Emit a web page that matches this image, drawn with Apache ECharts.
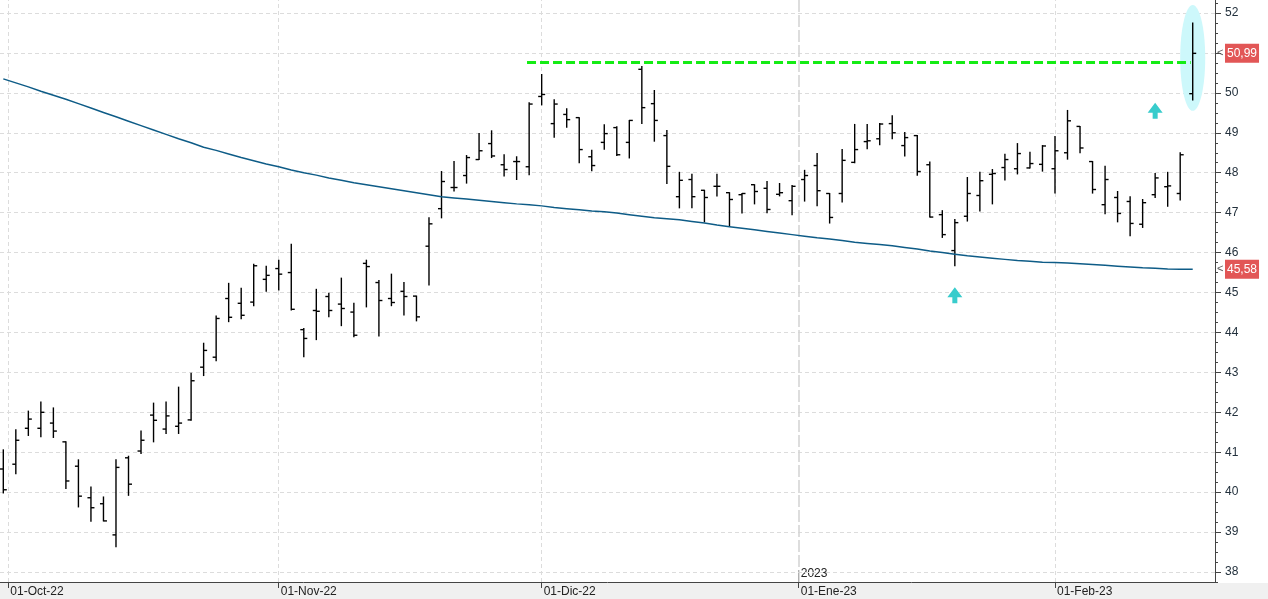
<!DOCTYPE html>
<html><head><meta charset="utf-8">
<script src="https://cdn.jsdelivr.net/npm/echarts@6/dist/echarts.min.js"></script>
<style>html,body{margin:0;padding:0;background:#fff}#c{width:1268px;height:599px}</style>
</head><body><div id="c"></div>
<script>
// ---- data (bar index 0 = 30-Sep-22) ----
const opens  = [40.58,40.70,41.60,41.60,41.73,41.26,40.65,39.86,39.71,38.93,40.86,41.03,41.93,41.58,41.65,41.81,43.13,43.38,44.85,44.73,44.76,45.33,45.60,45.50,44.07,44.55,44.90,44.71,44.51,45.73,45.25,44.85,45.03,44.91,46.16,47.10,47.63,47.93,48.33,48.73,48.20,48.28,48.15,49.91,49.23,49.46,49.38,48.40,48.76,49.13,48.76,50.59,49.73,48.93,47.40,47.83,47.56,47.66,47.50,47.45,47.70,47.61,47.46,47.30,47.83,48.18,47.48,47.48,48.26,48.78,48.85,49.23,48.68,48.93,48.20,46.95,46.05,46.91,47.43,47.96,48.13,48.10,48.12,48.21,48.10,48.50,49.16,48.28,47.20,47.38,47.28,46.71,47.45,47.65,47.48,49.98];
const highs  = [41.06,41.56,42.03,42.26,42.11,41.26,40.81,40.13,39.88,40.81,40.90,41.53,42.23,42.26,42.63,42.98,43.73,44.41,45.23,45.11,45.71,45.66,45.81,46.21,44.10,45.08,44.98,45.36,44.73,45.81,45.30,45.46,45.25,44.91,46.87,48.03,48.28,48.43,48.98,49.05,48.45,48.40,49.75,50.46,49.83,49.60,49.38,48.56,49.20,49.15,49.31,50.66,50.06,49.06,48.01,47.96,47.56,47.96,47.50,47.48,47.70,47.78,47.73,47.68,48.06,48.48,47.48,48.58,49.21,49.21,49.23,49.43,49.01,48.93,48.27,47.05,46.83,47.88,48.01,48.08,48.46,48.73,48.51,48.68,48.91,49.56,49.16,48.28,48.16,47.53,47.40,47.33,47.98,48.01,48.50,51.75];
const lows   = [39.98,40.46,41.42,41.39,41.37,40.09,39.63,39.27,39.28,38.63,39.92,40.97,41.26,41.47,41.47,41.80,42.92,43.29,44.27,44.34,44.67,45.03,45.06,44.56,43.39,43.82,44.39,44.17,43.89,44.64,43.91,44.67,44.44,44.29,45.19,46.87,47.54,47.74,48.33,48.38,47.92,47.83,47.95,49.70,48.89,49.14,48.25,48.05,48.59,48.43,48.37,49.23,48.79,47.73,47.12,47.12,46.77,47.42,46.66,46.99,47.22,47.00,47.42,46.95,47.29,47.17,46.74,47.27,48.25,48.60,48.70,48.85,48.42,47.94,46.89,46.38,45.67,46.79,47.04,47.22,47.82,47.97,48.12,48.04,47.49,48.34,48.50,47.49,46.97,46.77,46.42,46.63,47.38,47.16,47.32,49.82];
const closes = [40.06,41.30,41.83,42.00,41.53,40.28,39.90,39.61,39.28,40.62,40.20,41.30,41.80,41.91,41.73,42.79,43.55,44.35,44.38,44.43,45.67,45.43,45.46,44.58,43.85,44.53,44.55,44.60,43.93,45.65,44.80,44.75,44.90,44.39,46.72,47.78,47.63,48.38,48.55,48.42,48.08,48.28,49.72,49.96,49.72,49.33,48.58,48.18,48.98,48.45,49.31,49.63,49.31,48.16,47.81,47.40,47.38,47.66,47.33,47.48,47.53,47.08,47.50,47.66,47.93,47.55,46.88,48.31,48.58,48.80,49.22,49.00,48.88,48.03,46.89,46.45,46.75,47.48,47.80,47.98,48.33,48.48,48.23,48.67,48.55,49.30,48.62,47.58,47.83,46.98,46.73,47.25,47.87,47.67,48.45,50.99];
const ma200  = [50.35,50.25,50.15,50.04,49.94,49.84,49.73,49.62,49.51,49.40,49.29,49.18,49.07,48.96,48.85,48.75,48.64,48.56,48.47,48.38,48.30,48.22,48.15,48.07,48.00,47.94,47.87,47.81,47.75,47.70,47.65,47.60,47.55,47.50,47.45,47.40,47.37,47.34,47.31,47.28,47.25,47.22,47.20,47.17,47.13,47.10,47.07,47.04,47.02,46.99,46.95,46.91,46.87,46.85,46.82,46.78,46.74,46.69,46.65,46.61,46.57,46.53,46.49,46.45,46.41,46.37,46.34,46.30,46.26,46.23,46.20,46.17,46.13,46.09,46.04,46.00,45.96,45.92,45.89,45.86,45.83,45.80,45.78,45.76,45.75,45.74,45.72,45.70,45.68,45.66,45.64,45.62,45.61,45.59,45.58,45.58];

const yTickLabels = [38,39,40,41,42,43,44,45,46,47,48,49,50,51,52];
const xTickPos    = [0.4, 22, 43, 63.53, 84];
const xTickLabels = ['01-Oct-22','01-Nov-22','01-Dic-22','01-Ene-23','01-Feb-23'];
const yearMarkPos = 63.53, yearMarkLabel = '2023';
const resistanceLevel = 50.77, resistanceFrom = 41.83, resistanceTo = 94.84;
const lastPrice = 50.99, lastMA = 45.58;
const arrowPoints = [[76, 44.93], [92, 49.55]];
const highlight = {index: 95, top: 52.2, bottom: 49.55};

// ---- chart ----
const XMIN = -0.264, XMAX = 96.78, YMIN = 37.75, YMAX = 52.326;
const FONT = '"Liberation Sans", Arial, sans-serif';
const GRID_RIGHT = 53, W = 1268;
const quarterTicks = [];
for (let k = 0; YMIN + k * 0.25 <= 52.25 + 1e-9; k++) quarterTicks.push(+(YMIN + k * 0.25).toFixed(2));

const ohlc = opens.map((o, i) => [i, o, closes[i], lows[i], highs[i]]);
const maData = ma200.map((v, i) => [i, v]);
const fmt = v => v.toFixed(2).replace('.', ',');

function renderItem(params, api) {
  const i = api.value(0);
  const o = api.coord([i, api.value(1)]);
  const c = api.coord([i, api.value(2)]);
  const l = api.coord([i, api.value(3)]);
  const h = api.coord([i, api.value(4)]);
  const x = o[0], t = 3.5;
  const st = {stroke: '#000', lineWidth: 1.4};
  return {type: 'group', children: [
    {type: 'line', shape: {x1: x, y1: h[1] - 0.5, x2: x, y2: l[1] + 0.5}, style: st},
    {type: 'line', shape: {x1: x - t, y1: o[1], x2: x, y2: o[1]}, style: st},
    {type: 'line', shape: {x1: x, y1: c[1], x2: x + t, y2: c[1]}, style: st}
  ]};
}

// red last-value boxes on the right axis
const priceLabel = (v) => ({
  yAxis: v,
  lineStyle: {color: 'rgba(0,0,0,0)', width: 0},
  label: {
    show: true, position: 'end', distance: 10,
    formatter: fmt(v),
    backgroundColor: '#e25656', color: '#fff', fontSize: 12, fontFamily: FONT,
    height: 13, lineHeight: 13, padding: [3, 2, 3, 2]
  }
});

const gridBox = {left: 0, right: GRID_RIGHT, top: 0, bottom: 17, outerBoundsMode: 'none', containLabel: false};

const chart = echarts.init(document.getElementById('c'), null, {renderer: 'canvas'});
chart.setOption({
  animation: false,
  backgroundColor: '#fff',
  grid: [Object.assign({}, gridBox), Object.assign({}, gridBox)],
  xAxis: [{
    type: 'value', gridIndex: 0, min: XMIN, max: XMAX, position: 'bottom',
    axisLine: {show: true, onZero: false, lineStyle: {color: '#444', width: 1}},
    axisTick: {show: true, length: 6, customValues: xTickPos, lineStyle: {color: '#444'}},
    axisLabel: {show: true, customValues: xTickPos, align: 'left', margin: 4, padding: [0, 0, 0, 2],
      color: '#222', fontSize: 12, fontFamily: FONT,
      formatter: v => { const k = xTickPos.findIndex(p => Math.abs(p - v) < 1e-6); return k >= 0 ? xTickLabels[k] : ''; }},
    splitLine: {show: false}
  }, {
    // year marker on its own (identical) grid
    type: 'value', gridIndex: 1, min: XMIN, max: XMAX, position: 'bottom',
    axisLine: {show: false, onZero: false},
    axisTick: {show: true, inside: true, length: 12, customValues: [yearMarkPos], lineStyle: {color: '#444'}},
    axisLabel: {show: true, inside: true, customValues: [yearMarkPos], align: 'left', margin: 2, padding: [0, 0, 0, 2],
      color: '#222', fontSize: 12, fontFamily: FONT, formatter: () => yearMarkLabel},
    splitLine: {show: false}
  }],
  yAxis: [{
    type: 'value', gridIndex: 0, min: YMIN, max: YMAX, position: 'right', scale: true,
    axisLine: {show: true, onZero: false, lineStyle: {color: '#444', width: 1}},
    axisTick: {show: true, length: 6, customValues: yTickLabels, lineStyle: {color: '#444'}},
    axisLabel: {show: true, customValues: yTickLabels, margin: 10, color: '#22303c', fontSize: 12, fontFamily: FONT,
      formatter: v => String(Math.round(v))},
    splitLine: {show: false}
  }, {
    // minor quarter ticks on the right edge
    type: 'value', gridIndex: 1, min: YMIN, max: YMAX, position: 'right', scale: true,
    axisLine: {show: false, onZero: false},
    axisTick: {show: true, length: 3, customValues: quarterTicks, lineStyle: {color: '#444'}},
    axisLabel: {show: false},
    splitLine: {show: false}
  }],
  series: [
    { // grid lines
      type: 'line', data: [], z: 1, silent: true,
      markLine: {
        silent: true, z: 1, symbol: ['none', 'none'], label: {show: false},
        lineStyle: {color: '#dcdcdc', type: [4, 3], width: 1},
        emphasis: {disabled: true},
        data: [
          ...yTickLabels.map(v => ({yAxis: v})),
          ...xTickPos.filter(v => v !== yearMarkPos).map(v => ({xAxis: v})),
          {xAxis: yearMarkPos, lineStyle: {color: '#d2d2d2', type: [12, 3], width: 1.5}}
        ]
      }
    },
    {
      type: 'custom', name: 'OHLC', z: 3, renderItem: renderItem,
      encode: {x: 0, y: [1, 2, 3, 4]}, data: ohlc
    },
    {
      type: 'line', name: 'MA', z: 4, data: maData, showSymbol: false, symbol: 'none',
      lineStyle: {color: '#0e5c87', width: 1.5}
    },
    { // annotations
      type: 'line', data: [], z: 10, silent: true,
      markLine: {
        silent: true, z: 10, symbol: ['none', 'none'],
        emphasis: {disabled: true},
        data: [
          [{coord: [resistanceFrom, resistanceLevel], lineStyle: {color: '#14ec14', width: 3, type: [9, 4]}, label: {show: false}},
           {coord: [resistanceTo, resistanceLevel]}],
          priceLabel(lastPrice),
          priceLabel(lastMA)
        ]
      },
      markPoint: {
        silent: true, z: 10,
        symbol: 'path://M7.5 0 L15 10 L10 10 L10 16 L5 16 L5 10 L0 10 Z',
        symbolSize: [15, 16], itemStyle: {color: '#38cccc'}, label: {show: false},
        data: arrowPoints.map(p => ({coord: p}))
      }
    }
  ]
});

const c = chart.convertToPixel({seriesIndex: 1}, [highlight.index, highlight.top]);
const b = chart.convertToPixel({seriesIndex: 1}, [highlight.index, highlight.bottom]);
const s = chart.convertToPixel({seriesIndex: 1}, [highlight.index - 1, highlight.top]);
const pLast = chart.convertToPixel({seriesIndex: 1}, [XMAX, lastPrice]);
const pMA = chart.convertToPixel({seriesIndex: 1}, [XMAX, lastMA]);
const pointer = (p) => ({type: 'text', z: 20, silent: true, x: p[0] + 2, y: p[1],
  style: {text: '<', fill: '#555', fontSize: 11, fontFamily: FONT, verticalAlign: 'middle', align: 'left'}});
chart.setOption({
  graphic: [
    {type: 'rect', z: -10, shape: {x: 0, y: 583, width: W, height: 16}, style: {fill: '#f0f0f0'}, silent: true},
    {type: 'ellipse', z: 2, shape: {cx: c[0], cy: (c[1] + b[1]) / 2, rx: c[0] - s[0], ry: (b[1] - c[1]) / 2},
     style: {fill: '#cdf8fb'}, silent: true},
    pointer(pLast),
    pointer(pMA)
  ]
});
</script>
</body></html>
